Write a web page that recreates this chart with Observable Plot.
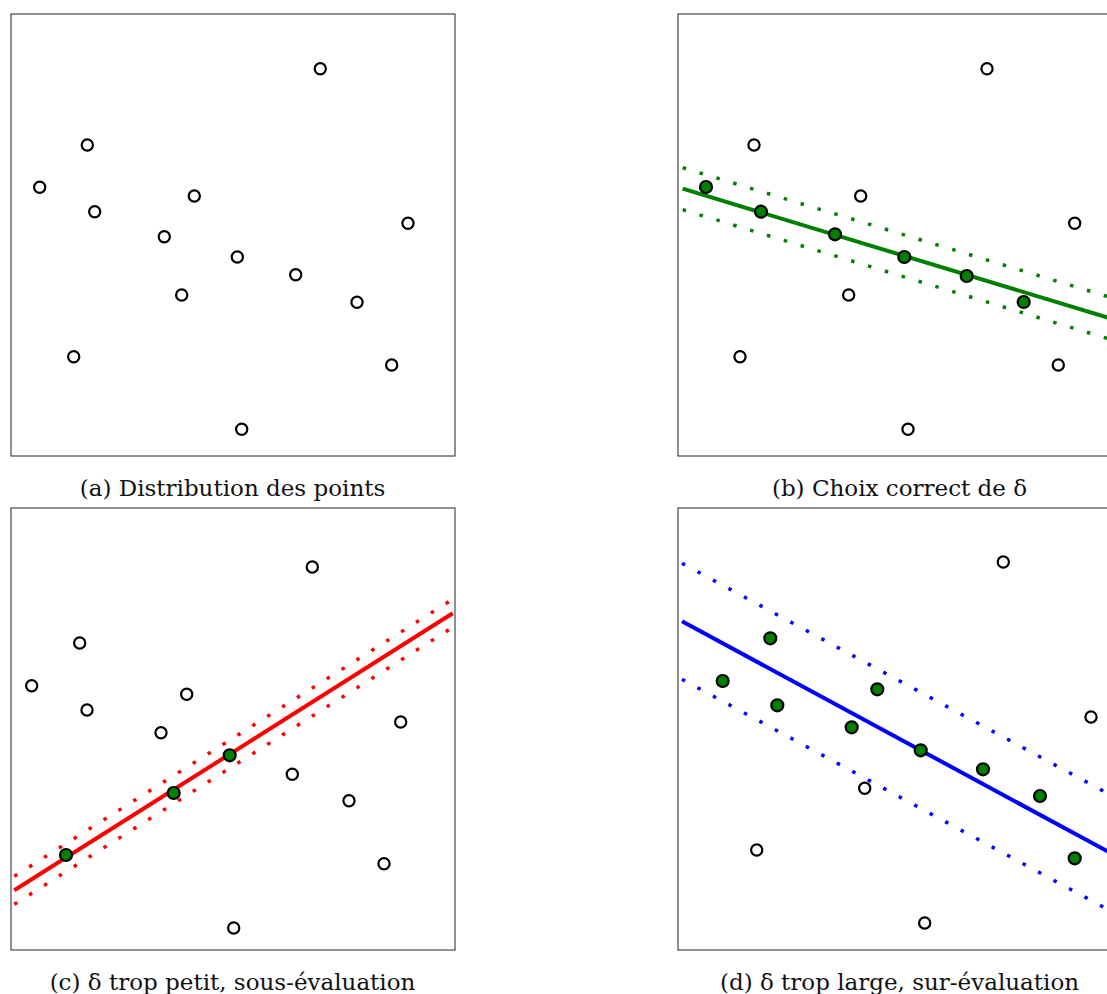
<!DOCTYPE html>
<html>
<head>
<meta charset="utf-8">
<script src="https://cdn.jsdelivr.net/npm/d3@7"></script>
<script src="https://cdn.jsdelivr.net/npm/@observablehq/plot@0.6"></script>
<style>
html, body { margin: 0; padding: 0; background: #fff; overflow: hidden; }
#root { position: relative; width: 1107px; height: 994px; overflow: hidden; background: #fff; }
.panel { position: absolute; width: 447px; height: 445px; }
.panel svg { display: block; max-width: none !important; width: 447px; height: 445px; }
.cap { position: absolute; width: 447px; text-align: center; font-family: "DejaVu Serif", "Liberation Serif", serif;
       font-size: 23px; line-height: 24px; color: #111; white-space: nowrap; }
</style>
</head>
<body>
<div id="root"></div>
<script>
// ---------- data ----------
const captions = [
  "(a) Distribution des points",
  "(b) Choix correct de δ",
  "(c) δ trop petit, sous-évaluation",
  "(d) δ trop large, sur-évaluation"
];

// point coordinates inside each frame (x to the right, y downward, frame 444 x 442)
const ptsAX = [309.3, 76.3, 28.7, 183.3, 83.7, 397, 153.3, 226.3, 284.7, 170.7, 346, 62.7, 380.7, 230.7];
const ptsAY = [54.7, 131, 173.3, 182, 197.7, 209.3, 222.7, 243, 260.7, 281, 288.3, 342.7, 351, 415.3];
const ptsAIn = [0,0,0,0,0,0,0,0,0,0,0,0,0,0];

const ptsBX = [309, 76, 28, 182.7, 83, 396.7, 157, 226.3, 288.7, 170.7, 345.7, 62, 380.3, 230];
const ptsBY = [54.7, 131, 173, 182, 197.7, 209.3, 220.3, 243, 262, 281, 288, 342.7, 351, 415.3];
const ptsBIn = [0,0,1,0,1,0,1,1,1,0,1,0,0,0];

const ptsCX = [301.3, 68.7, 20.7, 175.7, 76, 389.7, 150, 218.7, 281.3, 162.7, 338, 55, 373, 222.7];
const ptsCY = [59, 135, 177.7, 186.3, 202, 214, 224.7, 247.3, 266.3, 285, 292.7, 347, 355.7, 420];
const ptsCIn = [0,0,0,0,0,0,0,1,0,1,0,1,0,0];

const ptsDX = [325.3, 92.3, 44.7, 199.3, 99.3, 413, 173.7, 242.7, 305, 186.7, 362, 78.7, 396.7, 246.7];
const ptsDY = [54, 130.3, 173, 181.3, 197.3, 209, 219.3, 242.3, 261.3, 280.3, 288, 342, 350.3, 415];
const ptsDIn = [0,1,1,1,1,0,1,1,1,0,1,0,1,0];

// fitted line per panel: [x0, y0, x1, y1], and band half-width delta (vertical)
const lineB = [4.7, 174.7, 440, 306.7];
const lineC = [3.3, 382.3, 441.7, 105.3];
const lineD = [4, 113.3, 440, 349];
const deltaB = 21, deltaC = 14, deltaD = 58;
const lineColors = ["none", "#008000", "#ff0000", "#0000ff"];

// ---------- layout ----------
const lefts = [9, 676, 9, 676];
const tops = [12, 12, 506, 506];
const capTops = [476, 476, 970, 970];

const X = [ptsAX, ptsBX, ptsCX, ptsDX];
const Y = [ptsAY, ptsBY, ptsCY, ptsDY];
const IN = [ptsAIn, ptsBIn, ptsCIn, ptsDIn];
const LINES = [null, lineB, lineC, lineD];
const DELTAS = [0, deltaB, deltaC, deltaD];

const root = document.getElementById("root");

function makePanel(i) {
  const pts = X[i].map((x, k) => ({x, y: Y[i][k], inl: IN[i][k]}));
  const marks = [];
  const L = LINES[i];
  if (L) {
    const seg = (dy) => [{x: L[0], y: L[1] + dy}, {x: L[2], y: L[3] + dy}];
    const col = lineColors[i];
    for (const s of [-1, 1]) {
      marks.push(Plot.line(seg(s * DELTAS[i]), {
        x: "x", y: "y", stroke: col, strokeWidth: 3.5,
        strokeDasharray: "3.5,14.1", strokeLinecap: "butt"
      }));
    }
    marks.push(Plot.line(seg(0), {
      x: "x", y: "y", stroke: col, strokeWidth: 4, strokeLinecap: "butt"
    }));
  }
  marks.push(Plot.dot(pts.filter(d => !d.inl), {
    x: "x", y: "y", r: 5.6, fill: "white", stroke: "black", strokeWidth: 2.2
  }));
  marks.push(Plot.dot(pts.filter(d => d.inl), {
    x: "x", y: "y", r: 6, fill: "#008000", stroke: "black", strokeWidth: 2.2
  }));
  marks.push(Plot.frame({stroke: "#222", strokeWidth: 1}));

  const svg = Plot.plot({
    width: 447, height: 445, margin: 1.5,
    x: {domain: [0, 444], axis: null},
    y: {domain: [0, 442], reverse: true, axis: null},
    marks
  });
  const div = document.createElement("div");
  div.className = "panel";
  div.style.left = lefts[i] + "px";
  div.style.top = tops[i] + "px";
  div.appendChild(svg);
  root.appendChild(div);

  const cap = document.createElement("div");
  cap.className = "cap";
  cap.style.left = lefts[i] + "px";
  cap.style.top = capTops[i] + "px";
  cap.textContent = captions[i];
  root.appendChild(cap);
}

for (let i = 0; i < 4; i++) makePanel(i);
</script>
</body>
</html>
